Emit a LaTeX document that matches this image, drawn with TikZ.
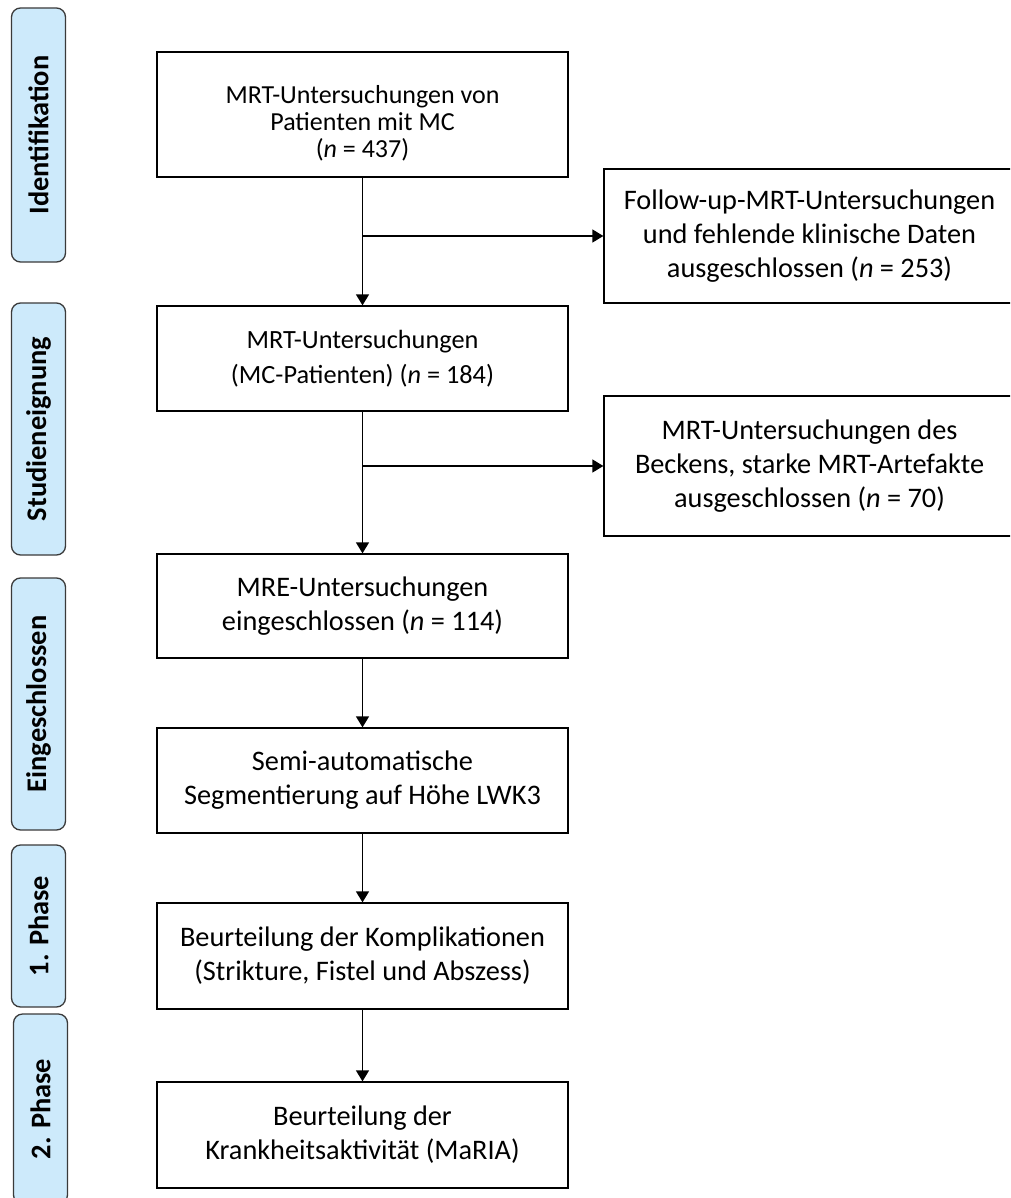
\documentclass[tikz,border=0pt]{standalone}
\usepackage{fontspec}
\setmainfont{Carlito}
\usepackage{tikz}
\usetikzlibrary{arrows.meta}
\definecolor{phaseblue}{HTML}{CDEAFB}
\definecolor{phaseline}{HTML}{3A3A3A}

\begin{document}
\begin{tikzpicture}[x=1pt,y=-1pt]
\tikzstyle{every node}+=[inner sep=0pt]
\tikzstyle{box}=[draw=black, line width=1.3pt, minimum width=411pt, align=center, font=\fontsize{28.3}{34}\selectfont]
\tikzstyle{phase}=[draw=phaseline, fill=phaseblue, line width=1.3pt, rounded corners=9pt, minimum height=54pt, rotate=90, font=\bfseries\fontsize{28.4}{33}\selectfont]
\tikzstyle{arr}=[line width=1.4pt, -{Triangle[length=11pt,width=13pt]}]
\useasboundingbox (0,0) rectangle (1010,1198);
\clip (0,0) rectangle (1010,1198);
\node[phase, minimum width=254pt] (ident) at (38.5,135) {Identifikation};
\node[phase, minimum width=252pt] (stud) at (38.5,429) {Studieneignung};
\node[phase, minimum width=252pt] (eing) at (38.5,704) {Eingeschlossen};
\node[phase, minimum width=162pt] (ph1) at (38.5,926) {1. Phase};
\node[phase, minimum width=190pt] (ph2) at (40.5,1109) {2. Phase};
\node[box, minimum height=125pt, font=\fontsize{26}{27}\selectfont] (mrt) at (362.5,114.5) {\rule{0pt}{36pt}MRT-Untersuchungen von\\Patienten mit MC\\(\textit{n} = 437)};
\node[box, minimum height=134pt] (fu) at (809.5,236) {Follow-up-MRT-Untersuchungen\\und fehlende klinische Daten\\ausgeschlossen (\textit{n} = 253)};
\node[box, minimum height=105pt, font=\fontsize{26.3}{35}\selectfont] (mc) at (362.5,358.5) {MRT-Untersuchungen\\(MC-Patienten) (\textit{n} = 184)};
\node[box, minimum height=140pt] (beck) at (809.5,466) {MRT-Untersuchungen des\\Beckens, starke MRT-Artefakte\\ausgeschlossen (\textit{n} = 70)};
\node[box, minimum height=104pt] (mre) at (362.5,606) {MRE-Untersuchungen\\eingeschlossen (\textit{n} = 114)};
\node[box, minimum height=105pt] (semi) at (362.5,780.5) {Semi-automatische\\Segmentierung auf Höhe LWK3};
\node[box, minimum height=106pt] (kompl) at (362.5,956) {Beurteilung der Komplikationen\\(Strikture, Fistel und Abszess)};
\node[box, minimum height=106pt] (maria) at (362.5,1135) {Beurteilung der\\Krankheitsaktivität (MaRIA)};
\coordinate (j1) at (mrt.south |- fu.west);
\coordinate (j2) at (mc.south |- beck.west);
\draw[arr] (mrt.south) -- (mc.north);
\draw[arr] (j1) -- (fu.west);
\draw[arr] (mc.south) -- (mre.north);
\draw[arr] (j2) -- (beck.west);
\draw[arr] (mre.south) -- (semi.north);
\draw[arr] (semi.south) -- (kompl.north);
\draw[arr] (kompl.south) -- (maria.north);
\end{tikzpicture}
\end{document}
